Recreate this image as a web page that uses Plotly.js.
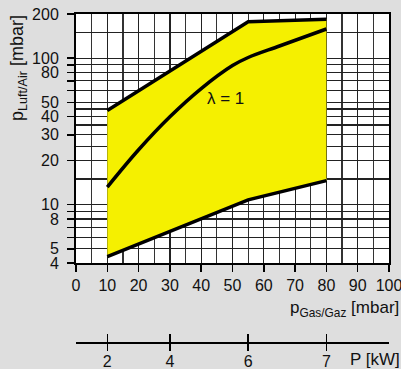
<!DOCTYPE html>
<html>
<head>
<meta charset="utf-8">
<script src="https://cdn.plot.ly/plotly-3.0.1.min.js"></script>
<style>html,body{margin:0;padding:0;background:#dedede;}</style>
</head>
<body>
<div id="chart" style="width:401px;height:369px;"></div>
<script>
// Gas pressure (mbar) on x, air pressure (mbar) on y (log)
const upperX = [10, 55, 80];
const upperY = [44, 177, 184];
const lowerX = [10, 55, 80];
const lowerY = [4.43, 10.8, 14.6];
const lambdaX = [10, 20, 30, 40, 50, 55, 65, 80];
const lambdaY = [13.2, 23.7, 39.8, 62, 89, 101, 121, 158];

// axis tick definitions
const xTickVals = [0, 10, 20, 30, 40, 50, 60, 70, 80, 90, 100];
const xMinorVals = [5, 15, 25, 35, 45, 55, 65, 75, 85, 95];
const yTickVals = [4, 5, 6, 7, 8, 9, 10, 20, 30, 40, 50, 60, 70, 80, 90, 100, 200];
const yTickText = ['4', '5', '', '', '8', '', '10', '20', '30', '40', '50', '', '', '80', '', '100', '200'];
const yMinorVals = [15, 25, 35, 45, 150];

// power scale (kW) and where it sits on the gas-pressure scale
const kwLabels = ['2', '4', '6', '7'];
const kwAtGas = [10, 30, 55, 80];

const fillX = lowerX.concat(upperX.slice().reverse());
const fillY = lowerY.concat(upperY.slice().reverse());

const FONT = '"Liberation Sans", Arial, Helvetica, sans-serif';

const traces = [
  {x: fillX, y: fillY, type: 'scatter', mode: 'lines', fill: 'toself',
   fillcolor: '#f5f000', line: {width: 0, color: 'rgba(0,0,0,0)'}, hoverinfo: 'skip', showlegend: false},
  {x: upperX, y: upperY, type: 'scatter', mode: 'lines', line: {color: '#000', width: 3.5}, showlegend: false},
  {x: lowerX, y: lowerY, type: 'scatter', mode: 'lines', line: {color: '#000', width: 3.5}, showlegend: false},
  {x: lambdaX, y: lambdaY, type: 'scatter', mode: 'lines', line: {color: '#000', width: 3.5, shape: 'spline', smoothing: 1}, showlegend: false},
  {x: kwAtGas, y: kwAtGas.map(() => 10), xaxis: 'x2', type: 'scatter', mode: 'markers',
   marker: {opacity: 0}, hoverinfo: 'skip', showlegend: false},
  {x: kwAtGas, y: kwAtGas.map(() => 10), xaxis: 'x3', type: 'scatter', mode: 'markers',
   marker: {opacity: 0}, hoverinfo: 'skip', showlegend: false}
];

const plotBottomPx = 263.3, pAxisPx = 342.3, topPx = 14;
const H = pAxisPx - topPx;
const yDom0 = (pAxisPx - plotBottomPx) / H;
const py = px => (pAxisPx - px) / H;
const pxX = px => (px - 76) / 313.3;

const layout = {
  width: 401, height: 369,
  margin: {l: 76, r: 12, t: topPx, b: 369 - pAxisPx},
  paper_bgcolor: '#dedede', plot_bgcolor: '#ffffff',
  font: {family: FONT, size: 16, color: '#111'},
  showlegend: false,
  xaxis: {
    range: [0, 100], tickvals: xTickVals, ticks: 'outside', ticklen: 7, tickwidth: 1.5, tickcolor: '#000',
    showgrid: true, gridcolor: '#222', gridwidth: 1.2,
    minor: {tickvals: xMinorVals, showgrid: true, gridcolor: '#333', gridwidth: 1.2, ticks: ''},
    showline: true, linecolor: '#000', linewidth: 2, mirror: true, zeroline: false,
    ticklabeloverflow: 'allow',
    tickfont: {family: FONT, size: 16, color: '#111'}, fixedrange: true
  },
  yaxis: {
    type: 'log', range: [Math.log10(4), Math.log10(200)], domain: [yDom0, 1],
    tickvals: yTickVals, ticktext: yTickText, ticks: 'outside', ticklen: 7, tickwidth: 1.5, tickcolor: '#000',
    showgrid: true, gridcolor: '#222', gridwidth: 1.2,
    minor: {tickvals: yMinorVals, showgrid: true, gridcolor: '#222', gridwidth: 1.2, ticks: ''},
    showline: true, linecolor: '#000', linewidth: 2, mirror: true, zeroline: false,
    ticklabelstandoff: 5, ticklabeloverflow: 'allow',
    tickfont: {family: FONT, size: 16, color: '#111'}, fixedrange: true
  },
  xaxis2: {
    overlaying: 'x', anchor: 'free', position: 0, side: 'bottom',
    range: [0, 100], tickvals: kwAtGas, ticktext: kwLabels,
    ticks: 'outside', ticklen: 7, tickwidth: 1.5, tickcolor: '#000',
    showgrid: false, zeroline: false, showline: true, linecolor: '#000', linewidth: 1.5,
    ticklabelstandoff: -3, ticklabeloverflow: 'allow',
    tickfont: {family: FONT, size: 16, color: '#111'}, fixedrange: true
  },
  xaxis3: {
    overlaying: 'x', anchor: 'free', position: 0, side: 'bottom',
    range: [0, 100], tickvals: kwAtGas, ticktext: kwLabels.map(() => ''),
    ticks: 'inside', ticklen: 8, tickwidth: 1.5, tickcolor: '#000',
    showgrid: false, zeroline: false, showline: false, showticklabels: false, fixedrange: true
  },
  annotations: [
    {text: 'p<sub>Luft/Air</sub> [mbar]', textangle: -90, xref: 'paper', yref: 'paper',
     x: pxX(19), y: py(68), xanchor: 'center', yanchor: 'middle', showarrow: false,
     font: {family: FONT, size: 18, color: '#111'}},
    {text: 'p<sub>Gas/Gaz</sub> [mbar]', xref: 'paper', yref: 'paper', xanchor: 'right', yanchor: 'middle',
     x: pxX(401), y: py(309), showarrow: false,
     font: {family: FONT, size: 17, color: '#111'}},
    {text: 'P [kW]', xref: 'paper', yref: 'paper', xanchor: 'right', yanchor: 'middle',
     x: pxX(402), y: py(360), showarrow: false,
     font: {family: FONT, size: 17, color: '#111'}},
    {text: 'λ = 1', xref: 'x', yref: 'y', x: 47.8, y: Math.log10(53), xanchor: 'center', yanchor: 'middle',
     showarrow: false, font: {family: FONT, size: 17, color: '#111'}}
  ]
};

Plotly.newPlot('chart', traces, layout, {displayModeBar: false, staticPlot: true});
</script>
</body>
</html>
